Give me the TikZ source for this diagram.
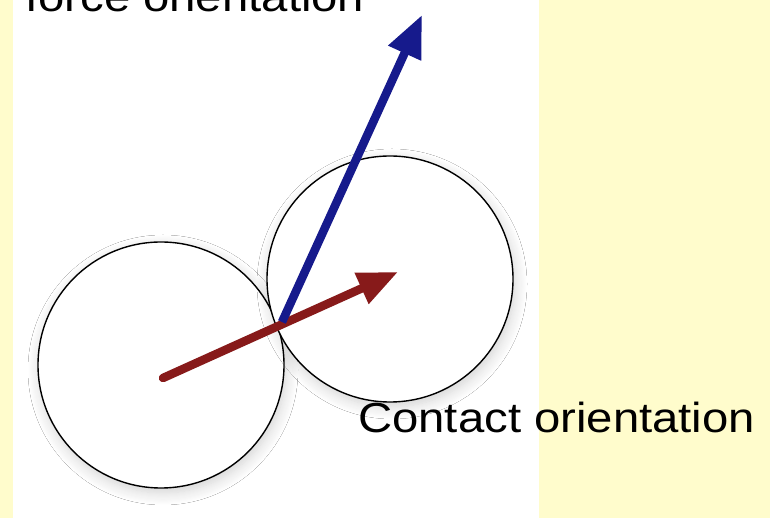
\documentclass[tikz,border=0pt]{standalone}
\usepackage{fontspec}
\setmainfont{Liberation Sans}
\usetikzlibrary{arrows.meta,shadows.blur}
\definecolor{bgyellow}{RGB}{255,252,204}
\definecolor{forceblue}{RGB}{22,26,140}
\definecolor{contactred}{RGB}{135,26,26}
\tikzset{
  grain/.style={circle, draw=black, line width=1.4pt, fill=white, minimum size=246pt, inner sep=0pt,
    blur shadow={shadow xshift=2pt, shadow yshift=-5pt, shadow blur radius=12pt, shadow blur steps=12, shadow opacity=18}},
  label text/.style={font=\fontsize{42}{48}\selectfont, inner sep=0pt, anchor=base west},
  forcearrow/.style={draw=forceblue, line width=8.5pt, -{Triangle[length=42pt,width=34pt]}},
  contactarrow/.style={draw=contactred, line width=8.5pt, line cap=round, -{Triangle[length=40pt,width=32pt]}}
}
\begin{document}
\begin{tikzpicture}[x=1pt,y=1pt]
  \fill[bgyellow] (0,0) rectangle (770,518);
  \fill[white] (13,0) rectangle (539,518);
  \useasboundingbox (0,0) rectangle (770,518);
  \node[grain] (g1) at (161,153) {};
  \node[grain] (g2) at (390,239) {};
  \coordinate (c) at (282,196);
  \coordinate (tail) at (163,140);
  \coordinate (rtip) at (398,246);
  \coordinate (btip) at (422,503);
  \draw[contactarrow] (tail) -- (rtip);
  \draw[forcearrow] (c) -- (btip);
  \node[label text] (force) at (25,506) {\scalebox{1.126}[1]{force orientation}};
  \node[label text] (contact) at (358,85) {\scalebox{1.126}[1]{Contact orientation}};
\end{tikzpicture}
\end{document}
